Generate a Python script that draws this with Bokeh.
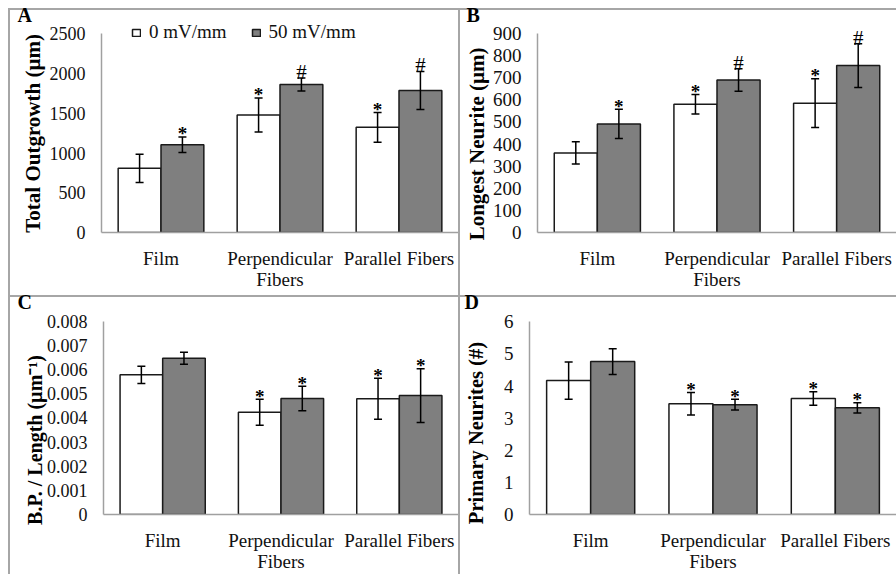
from bokeh.plotting import figure
from bokeh.layouts import column, row
from bokeh.models import (ColumnDataSource, FactorRange, Whisker, TeeHead,
                          Legend, LegendItem, FixedTicker, Range1d)
from bokeh.transform import dodge
from bokeh.core.properties import value
from bokeh.embed import file_html
from bokeh.resources import INLINE

# ---------------- data ----------------
categories = ["Film", "Perpendicular\nFibers", "Parallel Fibers"]
series_names = ["0 mV/mm", "50 mV/mm"]

# A: Total Outgrowth (um)
outgrowth_0 = [807, 1479, 1324]
outgrowth_0_err = [177, 214, 187]
outgrowth_50 = [1105, 1861, 1786]
outgrowth_50_err = [97, 82, 240]
outgrowth_0_mark = ["", "*", "*"]
outgrowth_50_mark = ["*", "#", "#"]

# B: Longest Neurite (um)
longest_0 = [360, 580, 585]
longest_0_err = [50, 44, 110]
longest_50 = [491, 690, 755]
longest_50_err = [66, 51, 99]
longest_0_mark = ["", "*", "*"]
longest_50_mark = ["*", "#", "#"]

# C: B.P. / Length (um^-1)
bp_0 = [0.00578, 0.00423, 0.00479]
bp_0_err = [0.00036, 0.00054, 0.00085]
bp_50 = [0.00647, 0.00480, 0.00492]
bp_50_err = [0.00025, 0.00051, 0.00111]
bp_0_mark = ["", "*", "*"]
bp_50_mark = ["", "*", "*"]

# D: Primary Neurites (#)
primary_0 = [4.17, 3.45, 3.61]
primary_0_err = [0.58, 0.35, 0.21]
primary_50 = [4.76, 3.42, 3.32]
primary_50_err = [0.40, 0.17, 0.16]
primary_0_mark = ["", "*", "*"]
primary_50_mark = ["", "*", "*"]

y_ticks_a = [0, 500, 1000, 1500, 2000, 2500]
y_ticks_b = [0, 100, 200, 300, 400, 500, 600, 700, 800, 900]
y_ticks_c = [0, 0.001, 0.002, 0.003, 0.004, 0.005, 0.006, 0.007, 0.008]
y_ticks_d = [0, 1, 2, 3, 4, 5, 6]

FONT = "Liberation Serif"
GRAY = "#7f7f7f"
AXIS = "#a0a0a0"
FRAME_STYLE = {"box-shadow": "inset 2px 2px 0 #a6a6a6"}
NBSP = "\u00a0"


def make_panel(letter, title, v0, e0, v1, e1, m0, m1, ymax, yticks, tick_fmt,
               w, h, fl, mbt, mbb, ymax_px, ytick_size, title_size, title_standoff,
               title_pad, letter_offset, legend=False):
    F = h - mbt - mbb                    # frame height in px
    y_end = ymax * F / (F - (ymax_px - mbt))   # leave room above the top tick
    src = ColumnDataSource(dict(
        cat=categories,
        v0=v0, v1=v1,
        lo0=[a - b for a, b in zip(v0, e0)], hi0=[a + b for a, b in zip(v0, e0)],
        lo1=[a - b for a, b in zip(v1, e1)], hi1=[a + b for a, b in zip(v1, e1)],
        s0=[m if m == "*" else "" for m in m0], s1=[m if m == "*" else "" for m in m1],
        h0=[m if m == "#" else "" for m in m0], h1=[m if m == "#" else "" for m in m1],
    ))
    p = figure(width=w, height=h, x_range=FactorRange(*categories, range_padding=0),
               y_range=Range1d(0, y_end), output_backend="svg", toolbar_location=None,
               min_border_left=fl, min_border_right=0, min_border_top=mbt,
               min_border_bottom=mbb, styles=FRAME_STYLE)
    p.border_fill_color = None
    p.background_fill_color = None
    p.outline_line_color = None
    p.grid.visible = False

    # panel letter
    p.title.text = letter
    p.title.align = "left"
    p.title.offset = letter_offset
    p.title.standoff = -14
    p.title.text_font = FONT
    p.title.text_font_size = "20px"
    p.title.text_font_style = "bold"
    p.title.text_color = "black"

    x0 = dodge("cat", -0.18, range=p.x_range)
    x1 = dodge("cat", 0.18, range=p.x_range)
    r0 = p.vbar(x=x0, top="v0", width=0.36, source=src, fill_color="white",
                line_color="#1a1a1a", line_width=1.5)
    r1 = p.vbar(x=x1, top="v1", width=0.36, source=src, fill_color=GRAY,
                line_color="#1a1a1a", line_width=1.5)
    for base, lo, hi in ((x0, "lo0", "hi0"), (x1, "lo1", "hi1")):
        wk = Whisker(base=base, lower=lo, upper=hi, source=src, level="overlay",
                     line_color="black", line_width=1.5,
                     upper_head=TeeHead(size=8, line_width=1.5, line_color="black"),
                     lower_head=TeeHead(size=8, line_width=1.5, line_color="black"))
        p.add_layout(wk)
    # significance marks
    for base, hi, s, hh in ((x0, "hi0", "s0", "h0"), (x1, "hi1", "s1", "h1")):
        p.text(x=base, y=hi, text=s, source=src, text_font=value(FONT),
               text_font_size="19px", text_font_style="bold", text_align="center",
               text_baseline="alphabetic", y_offset=-3, text_color="black")
        p.text(x=base, y=hi, text=hh, source=src, text_font=value(FONT),
               text_font_size="21px", text_align="center",
               text_baseline="alphabetic", y_offset=-6, text_color="black")

    xa = p.xaxis[0]
    xa.axis_line_color = AXIS
    xa.axis_line_width = 1.5
    xa.major_tick_out = 0
    xa.major_tick_in = 0
    xa.major_tick_line_color = None
    xa.minor_tick_line_color = None
    xa.major_label_text_font = FONT
    xa.major_label_text_font_size = "19px"
    xa.major_label_text_color = "#111111"
    xa.major_label_standoff = 15
    xa.major_label_text_line_height = 1.0

    ya = p.yaxis[0]
    ya.ticker = FixedTicker(ticks=yticks)
    ya.bounds = (0, ymax)
    ya.axis_line_color = AXIS
    ya.axis_line_width = 1.5
    ya.major_tick_out = 0
    ya.major_tick_in = 0
    ya.major_tick_line_color = None
    ya.minor_tick_line_color = None
    ya.major_label_text_font = FONT
    ya.major_label_text_font_size = ytick_size
    ya.major_label_text_color = "#111111"
    ya.major_label_standoff = 16
    ya.major_label_overrides = {t: tick_fmt(t) for t in yticks}
    ya.axis_label = title + NBSP * title_pad
    ya.axis_label_text_font = FONT
    ya.axis_label_text_font_size = title_size
    ya.axis_label_text_font_style = "bold"
    ya.axis_label_text_color = "black"
    ya.axis_label_standoff = title_standoff

    if legend:
        lg = Legend(items=[LegendItem(label=series_names[0], renderers=[r0]),
                           LegendItem(label=series_names[1], renderers=[r1])],
                    orientation="horizontal", location=(30, 189),
                    glyph_width=10, glyph_height=9, label_height=18,
                    label_standoff=8, spacing=24, padding=0, margin=0,
                    border_line_color=None, background_fill_alpha=0,
                    label_text_font=FONT, label_text_font_size="19px",
                    label_text_color="#111111")
        p.add_layout(lg, "center")
    return p


def fmt_int(t):
    return str(int(t))


def fmt_c(t):
    return "0" if t == 0 else "%.3f" % t


pA = make_panel("A", "Total Outgrowth (µm)", outgrowth_0, outgrowth_0_err,
                outgrowth_50, outgrowth_50_err, outgrowth_0_mark, outgrowth_50_mark,
                2500, y_ticks_a, fmt_int, 450, 287, 93, 10, 63, 25.3, "18px", "21px",
                2, 3, -84, legend=True)
pB = make_panel("B", "Longest Neurite (µm)", longest_0, longest_0_err,
                longest_50, longest_50_err, longest_0_mark, longest_50_mark,
                900, y_ticks_b, fmt_int, 438, 287, 79, 10, 59, 25.3, "19px", "21px",
                1, 7, -71)
pC = make_panel("C", "B.P. / Length  (µm⁻¹)", bp_0, bp_0_err, bp_50, bp_50_err,
                bp_0_mark, bp_50_mark, 0.008, y_ticks_c, fmt_c, 450, 279, 95, 10, 60,
                25.7, "18px", "20px", -2, 11, -86)
pD = make_panel("D", "Primary Neurites (#)", primary_0, primary_0_err, primary_50,
                primary_50_err, primary_0_mark, primary_50_mark, 6, y_ticks_d, fmt_int,
                438, 279, 71, 10, 60, 26.3, "19px", "20.5px", 14, 9, -65)

layout = column(row(pA, pB, spacing=0), row(pC, pD, spacing=0), spacing=0,
                styles={"transform": "translate(8px, 8px)"})

open("out.html", "w").write(file_html(layout, INLINE))
